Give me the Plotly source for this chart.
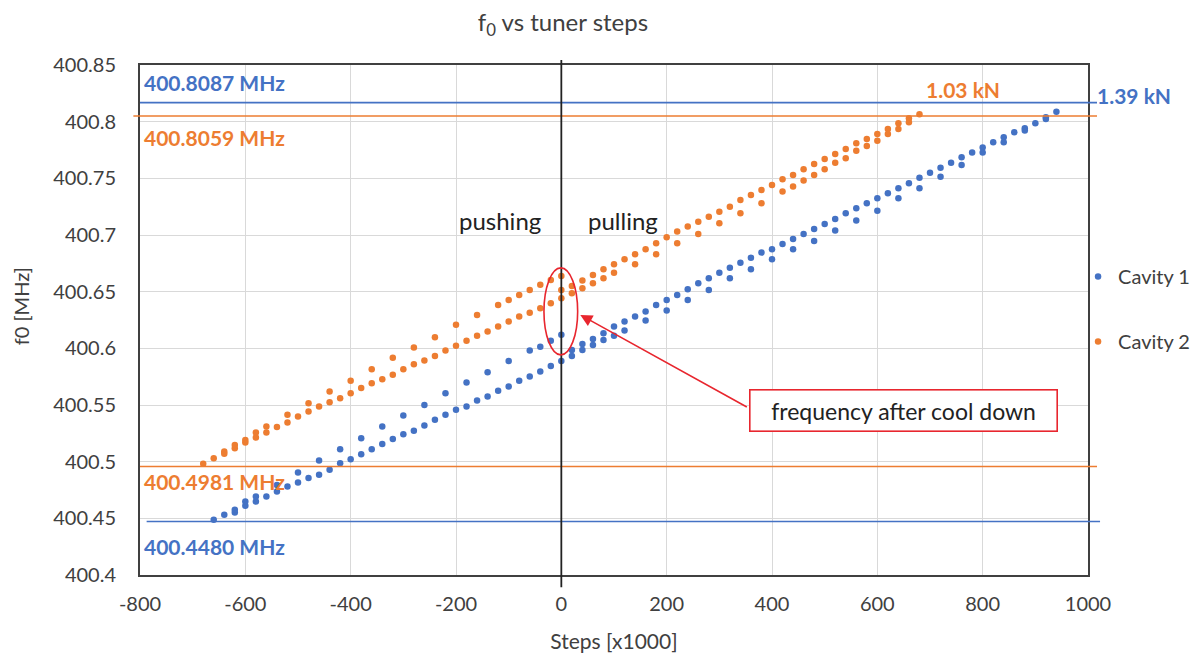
import plotly.graph_objects as go

# ---------------- data ----------------
c1_push_main_steps = [-660, -640, -620, -600, -580, -560, -540, -520, -500, -480, -460, -440, -420, -400,
                      -380, -360, -340, -320, -300, -280, -260, -240, -220, -200, -180, -160, -140, -120,
                      -100, -80, -60, -40, -20, 0]
c1_push_main_f0 = [400.4487, 400.4531, 400.4551, 400.4610, 400.4648, 400.4692, 400.4737, 400.4781, 400.4816,
                   400.4855, 400.4884, 400.4928, 400.4987, 400.5022, 400.5066, 400.5110, 400.5155, 400.5199,
                   400.5243, 400.5272, 400.5319, 400.5370, 400.5413, 400.5457, 400.5486, 400.5539, 400.5574,
                   400.5625, 400.5663, 400.5713, 400.5751, 400.5795, 400.5845, 400.5889]
c1_push_upper_steps = [-620, -600, -580, -540, -500, -460, -420, -380, -340, -300, -260, -220, -180, -140,
                       -100, -60, -40, -20, 0]
c1_push_upper_f0 = [400.4575, 400.4648, 400.4692, 400.4795, 400.4904, 400.5010, 400.5110, 400.5207, 400.5310,
                    400.5407, 400.5501, 400.5604, 400.5698, 400.5790, 400.5889, 400.5980, 400.6015, 400.6066,
                    400.6119]
c1_pull_upper_steps = [20, 40, 60, 80, 100, 120, 140, 160, 180, 200, 220, 240, 260, 280, 300, 320, 340, 360,
                       380, 400, 420, 440, 460, 480, 500, 520, 540, 560, 580, 600, 620, 640, 660, 680, 700,
                       720, 740, 760, 780, 800, 820, 840, 860, 880, 900, 920, 940]
c1_pull_upper_f0 = [400.5986, 400.6039, 400.6083, 400.6134, 400.6192, 400.6236, 400.6280, 400.6324, 400.6383,
                    400.6427, 400.6471, 400.6522, 400.6575, 400.6619, 400.6668, 400.6712, 400.6756, 400.6800,
                    400.6845, 400.6874, 400.6921, 400.6965, 400.7009, 400.7054, 400.7098, 400.7142, 400.7192,
                    400.7236, 400.7280, 400.7324, 400.7368, 400.7413, 400.7457, 400.7506, 400.7550, 400.7594,
                    400.7638, 400.7686, 400.7727, 400.7771, 400.7818, 400.7862, 400.7906, 400.7942, 400.7986,
                    400.8039, 400.8088]
c1_pull_lower_steps = [20, 40, 60, 80, 100, 120, 160, 200, 240, 280, 320, 360, 400, 440, 480, 520, 560, 600,
                       640, 680, 720, 760, 800, 840, 880, 920]
c1_pull_lower_f0 = [400.5933, 400.5986, 400.6030, 400.6074, 400.6112, 400.6157, 400.6245, 400.6333, 400.6427,
                    400.6515, 400.6619, 400.6698, 400.6786, 400.6874, 400.6948, 400.7039, 400.7127, 400.7215,
                    400.7324, 400.7413, 400.7515, 400.7618, 400.7727, 400.7818, 400.7921, 400.8024]

c2_push_lower_steps = [-680, -660, -640, -620, -600, -580, -560, -540, -520, -500, -480, -460, -440, -420,
                       -400, -380, -360, -340, -320, -300, -280, -260, -240, -220, -200, -180, -160, -140,
                       -120, -100, -80, -60, -40, -20, 0]
c2_push_lower_f0 = [400.4981, 400.5031, 400.5069, 400.5119, 400.5169, 400.5213, 400.5257, 400.5305, 400.5345,
                    400.5398, 400.5442, 400.5486, 400.5525, 400.5560, 400.5604, 400.5649, 400.5693, 400.5728,
                    400.5766, 400.5816, 400.5860, 400.5892, 400.5933, 400.5980, 400.6022, 400.6066, 400.6110,
                    400.6148, 400.6192, 400.6236, 400.6280, 400.6315, 400.6354, 400.6398, 400.6442]
c2_push_upper_steps = [-640, -620, -600, -580, -560, -520, -480, -440, -400, -360, -320, -280, -240, -200,
                       -160, -120, -100, -80, -60, -40, -20, 0]
c2_push_upper_f0 = [400.5089, 400.5148, 400.5192, 400.5257, 400.5310, 400.5413, 400.5516, 400.5619, 400.5713,
                    400.5816, 400.5918, 400.6007, 400.6098, 400.6207, 400.6295, 400.6383, 400.6427, 400.6471,
                    400.6515, 400.6560, 400.6604, 400.6639]
c2_cool_steps = [0]
c2_cool_f0 = [400.6515]
c2_pull_upper_steps = [20, 40, 60, 80, 100, 120, 140, 160, 180, 200, 220, 240, 260, 280, 300, 320, 340, 360,
                       380, 400, 420, 440, 460, 480, 500, 520, 540, 560, 580, 600, 620, 640, 660, 680]
c2_pull_upper_f0 = [400.6551, 400.6598, 400.6648, 400.6698, 400.6742, 400.6786, 400.6830, 400.6874, 400.6927,
                    400.6980, 400.7030, 400.7074, 400.7118, 400.7162, 400.7206, 400.7250, 400.7309, 400.7353,
                    400.7397, 400.7442, 400.7492, 400.7530, 400.7580, 400.7627, 400.7671, 400.7715, 400.7759,
                    400.7809, 400.7847, 400.7891, 400.7936, 400.7986, 400.8030, 400.8065]
c2_pull_lower_steps = [20, 40, 60, 80, 100, 140, 180, 220, 260, 300, 340, 380, 420, 440, 460, 480, 500, 520,
                       540, 560, 580, 600, 620, 640, 660]
c2_pull_lower_f0 = [400.6486, 400.6530, 400.6575, 400.6619, 400.6668, 400.6742, 400.6830, 400.6927, 400.7009,
                    400.7104, 400.7192, 400.7280, 400.7383, 400.7427, 400.7480, 400.7530, 400.7580, 400.7638,
                    400.7677, 400.7744, 400.7786, 400.7832, 400.7891, 400.7936, 400.7995]

series_names = ["Cavity 1", "Cavity 2"]
ref_line_f0 = [400.8168, 400.8050, 400.4957, 400.4472]
ref_labels = ["400.8087 MHz", "400.8059 MHz", "400.4981 MHz", "400.4480 MHz"]
ref_label_f0 = [400.8350, 400.7856, 400.4822, 400.4249]
force_labels = ["1.03 kN", "1.39 kN"]
y_tick_vals = [400.4, 400.45, 400.5, 400.55, 400.6, 400.65, 400.7, 400.75, 400.8, 400.85]
y_tick_text = ["400.4", "400.45", "400.5", "400.55", "400.6", "400.65", "400.7", "400.75", "400.8", "400.85"]
x_tick_vals = [-800, -600, -400, -200, 0, 200, 400, 600, 800, 1000]
x_tick_text = ["-800", "-600", "-400", "-200", "0", "200", "400", "600", "800", "1000"]

# ---------------- styling ----------------
BLUE = "#4472C4"
ORANGE = "#ED7D31"
RED = "#E8262E"
TXT = "#404040"
FONT = "Lato"

fig = go.Figure()
fig.add_trace(go.Scatter(
    x=c1_push_main_steps + c1_push_upper_steps + c1_pull_upper_steps + c1_pull_lower_steps,
    y=c1_push_main_f0 + c1_push_upper_f0 + c1_pull_upper_f0 + c1_pull_lower_f0,
    mode="markers", name=series_names[0], legendgroup="g1",
    marker=dict(color=BLUE, size=6.5)))
fig.add_trace(go.Scatter(
    x=c2_push_lower_steps + c2_push_upper_steps + c2_cool_steps + c2_pull_upper_steps + c2_pull_lower_steps,
    y=c2_push_lower_f0 + c2_push_upper_f0 + c2_cool_f0 + c2_pull_upper_f0 + c2_pull_lower_f0,
    mode="markers", name=series_names[1], legendgroup="g2",
    marker=dict(color=ORANGE, size=6.5)))

line_colors = [BLUE, ORANGE, ORANGE, BLUE]
line_x0 = [0.0, -0.007, 0.0, 0.007]
line_x1 = [1.0095, 1.0095, 1.0095, 1.0127]
shapes = []
for f, c, a, b in zip(ref_line_f0, line_colors, line_x0, line_x1):
    shapes.append(dict(type="line", xref="paper", yref="y", x0=a, x1=b, y0=f, y1=f,
                       line=dict(color=c, width=1.6), layer="above"))
# vertical zero line
shapes.append(dict(type="line", xref="x", yref="paper", x0=0, x1=0, y0=-0.024, y1=1.01,
                   line=dict(color="#222222", width=1.8), layer="above"))
# ellipse around cool-down frequency
shapes.append(dict(type="circle", xref="x", yref="y", x0=-33, x1=31, y0=400.5942, y1=400.6710,
                   line=dict(color=RED, width=1.6), layer="above"))
fig.update_layout(shapes=shapes)

annotations = []
for txt, f, c in zip(ref_labels, ref_label_f0, line_colors):
    annotations.append(dict(text="<b>%s</b>" % txt, xref="paper", yref="y", x=0.002, y=f,
                            xanchor="left", yanchor="middle", showarrow=False,
                            font=dict(family=FONT, size=21, color=c)))
annotations.append(dict(text="<b>%s</b>" % force_labels[0], xref="x", yref="y", x=763, y=400.8280,
                        xanchor="center", yanchor="middle", showarrow=False,
                        font=dict(family=FONT, size=21, color=ORANGE)))
annotations.append(dict(text="<b>%s</b>" % force_labels[1], xref="paper", yref="y", x=1.0074, y=400.8227,
                        xanchor="left", yanchor="middle", showarrow=False,
                        font=dict(family=FONT, size=21, color=BLUE)))
annotations.append(dict(text="pushing", xref="x", yref="y", x=-116, y=400.7125, showarrow=False,
                        font=dict(family=FONT, size=24, color="#222222")))
annotations.append(dict(text="pulling", xref="x", yref="y", x=118, y=400.7125, showarrow=False,
                        font=dict(family=FONT, size=24, color="#222222")))
# arrow
annotations.append(dict(text="", xref="x", yref="y", x=36, y=400.6295, axref="x", ayref="y",
                        ax=355, ay=400.5475, showarrow=True, arrowhead=2, arrowsize=1.5,
                        arrowwidth=1.6, arrowcolor=RED, standoff=0))
# box
annotations.append(dict(text="frequency after cool down", xref="x", yref="y", x=649, y=400.5453,
                        showarrow=False, bgcolor="white", bordercolor=RED, borderwidth=1.6,
                        borderpad=0, width=306, height=40,
                        font=dict(family=FONT, size=23, color="#222222")))
# y-axis title (placed like the reference, slightly above centre)
annotations.append(dict(text="f0 [MHz]", xref="paper", yref="paper", x=-0.1255, y=0.527,
                        textangle=-90, showarrow=False, xanchor="center", yanchor="middle",
                        font=dict(family=FONT, size=20, color=TXT)))
fig.update_layout(annotations=annotations)

fig.update_layout(
    width=1194, height=653,
    margin=dict(l=140, r=106, t=65, b=78, autoexpand=False),
    paper_bgcolor="white", plot_bgcolor="white",
    font=dict(family=FONT, size=20, color=TXT),
    title=dict(text="f<sub>0</sub> vs tuner steps", x=0.4715, xanchor="center", y=0.965, yanchor="middle",
               font=dict(family=FONT, size=24, color=TXT)),
    showlegend=True,
    legend=dict(x=0.9895, xanchor="left", y=0.5216, yanchor="middle",
                tracegroupgap=36, font=dict(family=FONT, size=20, color=TXT), bgcolor="rgba(0,0,0,0)",
                itemwidth=30),
)

fig.update_xaxes(range=[-800, 1000], tickvals=x_tick_vals, ticktext=x_tick_text, showgrid=True,
                 gridcolor="#D9D9D9", gridwidth=1, automargin=False,
                 zeroline=False, showline=True, mirror=True, linecolor="#404040", linewidth=2,
                 ticks="outside", ticklen=10, tickcolor="rgba(0,0,0,0)",
                 tickfont=dict(family=FONT, size=20, color=TXT),
                 title=dict(text="Steps [x1000]", standoff=20, font=dict(family=FONT, size=21, color=TXT)))
fig.update_yaxes(range=[400.4, 400.85], tickvals=y_tick_vals, ticktext=y_tick_text, showgrid=True,
                 gridcolor="#D9D9D9", gridwidth=1, zeroline=False, showline=True, mirror=True, automargin=False,
                 linecolor="#404040", linewidth=2, ticks="outside", ticklen=18, tickcolor="rgba(0,0,0,0)",
                 tickfont=dict(family=FONT, size=20, color=TXT))

fig.write_html("out.html")
